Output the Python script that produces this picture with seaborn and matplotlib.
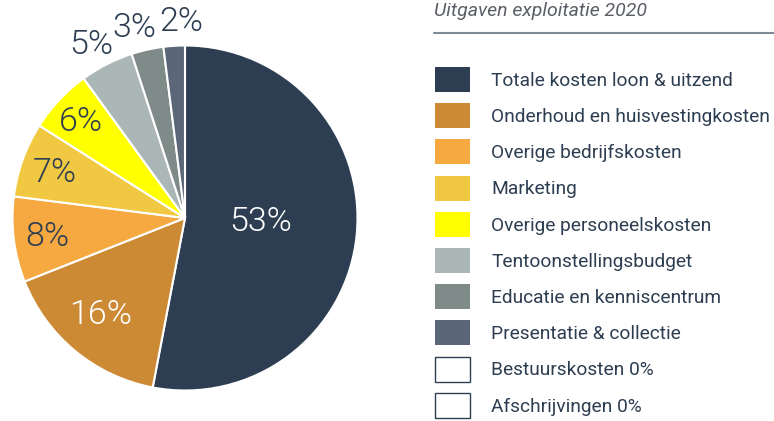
import matplotlib
matplotlib.use("Agg")
import matplotlib.pyplot as plt
from matplotlib.patches import Patch
import seaborn as sns
import numpy as np

categories = ["Totale kosten loon & uitzend", "Onderhoud en huisvestingkosten",
              "Overige bedrijfskosten", "Marketing", "Overige personeelskosten",
              "Tentoonstellingsbudget", "Educatie en kenniscentrum",
              "Presentatie & collectie", "Bestuurskosten 0%", "Afschrijvingen 0%"]
values = [53, 16, 8, 7, 6, 5, 3, 2, 0, 0]
colors = ["#2e3e52", "#cd8a35", "#f5a940", "#f0c842", "#ffff00",
          "#abb7b6", "#7e8b89", "#5b6678", "#ffffff", "#ffffff"]
title = "Uitgaven exploitatie 2020"

# label styling (radial distance and small angle shift, per slice)
label_dist = [0.44, 0.746, 0.806, 0.80, 0.818, 1.138, 1.14, 1.139]
label_shift = [2.4, -1.6, 0.6, 0.8, 0.5, 1.5, 2.4, -2.6]
label_col = ["white", "white", "#2e3e52", "#2e3e52", "#2e3e52", "#2e3e52", "#2e3e52", "#2e3e52"]

sns.set_theme(style="white")
plt.rcParams['font.family'] = ['Roboto', 'DejaVu Sans']
text_col = "#2e3e52"

fig = plt.figure(figsize=(7.74, 4.21), dpi=100)

cx, cy, r = 185, 218, 172.5
W, H = 774, 421
ax = fig.add_axes([(cx - r) / W, (H - cy - r) / H, 2 * r / W, 2 * r / H])

pv = [v for v in values if v > 0]
pc = [c for v, c in zip(values, colors) if v > 0]
wedges, _ = ax.pie(pv, colors=pc, startangle=90, counterclock=False,
                   wedgeprops=dict(edgecolor="white", linewidth=1.5))
ax.set_xlim(-1, 1)
ax.set_ylim(-1, 1)
ax.set_aspect("equal")
ax.axis("off")

for w, v, d, s, c in zip(wedges, pv, label_dist, label_shift, label_col):
    ang = np.deg2rad((w.theta1 + w.theta2) / 2 + s)
    ax.text(d * np.cos(ang), d * np.sin(ang), f"{v:.0f}%", ha="center", va="center",
            fontsize=24.5, color=c, fontweight=300, clip_on=False)

# legend title and rule
fig.text(434 / W, 1 - 11 / H, title, ha="left", va="center", fontsize=14,
         style="italic", color="#5a5f66")
fig.add_artist(plt.Line2D([434 / W, 1.0], [1 - 33 / H, 1 - 33 / H],
                          transform=fig.transFigure, color="#7d8a96", linewidth=1.5))

handles = []
for cat, col in zip(categories, colors):
    if col == "#ffffff":
        handles.append(Patch(facecolor="white", edgecolor=text_col, linewidth=1))
    else:
        handles.append(Patch(facecolor=col, edgecolor=col, linewidth=0))

fs = 13.8
fspx = fs * 100 / 72
leg = fig.legend(handles, categories, loc="upper left",
                 bbox_to_anchor=(435 / W, 1 - 67 / H), frameon=False,
                 fontsize=fs, handlelength=35 / fspx, handleheight=(25 / fspx - 0.245) / 0.65,
                 labelspacing=11.2 / fspx, handletextpad=21 / fspx, borderpad=0,
                 borderaxespad=0)
for t in leg.get_texts():
    t.set_color(text_col)

fig.savefig("out.png", dpi=100)
